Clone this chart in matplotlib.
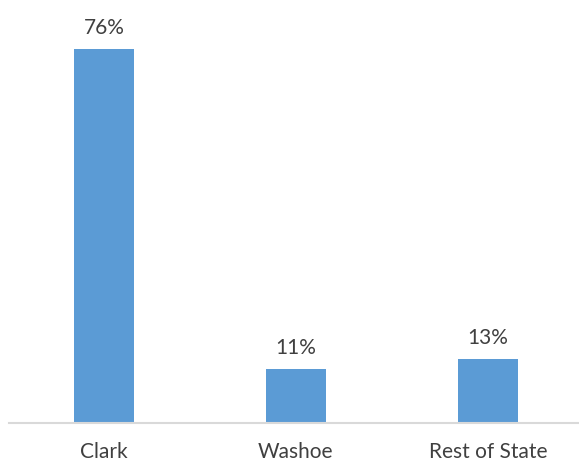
import matplotlib.pyplot as plt

# data
regions = ["Clark", "Washoe", "Rest of State"]
shares = [76, 11, 13]

W, H = 579, 464
fig = plt.figure(figsize=(W / 100, H / 100), dpi=100)

# axes placed in pixel terms: baseline at y=424, from x=9 to x=578
ax = fig.add_axes([9 / W, (H - 424) / H, (578 - 9) / W, 424 / H])

px_per_unit = 374 / 76
ax.bar(range(len(regions)), shares, width=0.31, color="#5B9BD5")
ax.set_xlim(-0.495, 2.47)
ax.set_ylim(0, 424 / px_per_unit)

for i, v in enumerate(shares):
    ax.text(i, v + 2.4, f"{v}%", ha="center", va="bottom",
            fontsize=15, color="#404040", family="Lato")

ax.set_xticks(range(len(regions)))
ax.set_xticklabels(regions, fontsize=15, color="#404040", family="Lato")
ax.tick_params(axis="x", length=0, pad=13)
ax.set_yticks([])

for s in ["top", "right", "left"]:
    ax.spines[s].set_visible(False)
ax.spines["bottom"].set_color("#D9D9D9")
ax.spines["bottom"].set_linewidth(1.5)

fig.savefig("out.png", dpi=100)
